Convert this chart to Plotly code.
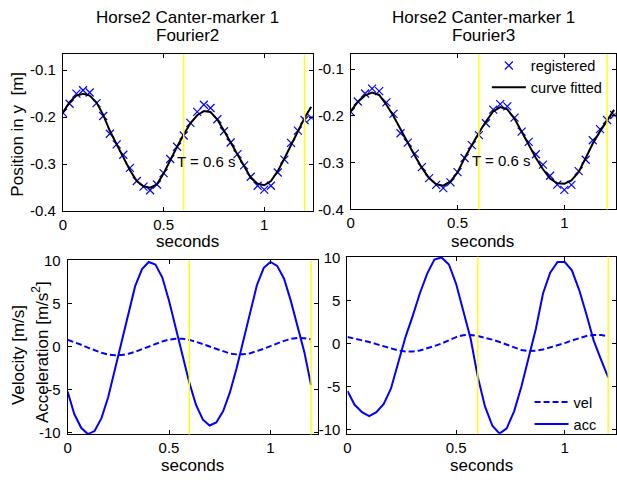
import plotly.graph_objects as go

# ---------------- data ----------------
t_pos = [0.0, 0.033, 0.067, 0.1, 0.133, 0.167, 0.2, 0.233, 0.267, 0.3,
         0.333, 0.367, 0.4, 0.433, 0.467, 0.5, 0.533, 0.567, 0.6, 0.633,
         0.667, 0.7, 0.733, 0.767, 0.8, 0.833, 0.867, 0.9, 0.933, 0.967,
         1.0, 1.033, 1.067, 1.1, 1.133, 1.167, 1.2, 1.233]
t_kin = t_pos[:37]

reg_f2 = [-0.191, -0.1715, -0.150, -0.1426, -0.1474, -0.170, -0.1976, -0.2354, -0.258, -0.280,
          -0.308, -0.336, -0.348, -0.3557, -0.3433, -0.319, -0.289, -0.263, -0.239, -0.212,
          -0.1886, -0.1735, -0.1804, -0.2045, -0.230, -0.254, -0.2787, -0.3027, -0.3268, -0.3461,
          -0.3543, -0.3461, -0.3179, -0.2904, -0.2546, -0.2285, -0.206, -0.201]
fit_f2 = [-0.190, -0.168, -0.154, -0.150, -0.154, -0.169, -0.195, -0.229, -0.258, -0.286,
          -0.313, -0.336, -0.347, -0.350, -0.343, -0.320, -0.291, -0.263, -0.237, -0.213,
          -0.196, -0.187, -0.189, -0.205, -0.229, -0.254, -0.280, -0.307, -0.329, -0.342,
          -0.345, -0.336, -0.315, -0.288, -0.259, -0.231, -0.202, -0.178]

reg_f3 = [-0.1913, -0.169, -0.152, -0.1415, -0.147, -0.171, -0.1954, -0.237, -0.257, -0.2805,
          -0.3095, -0.333, -0.3476, -0.3545, -0.342, -0.320, -0.290, -0.2625, -0.241, -0.2155,
          -0.1864, -0.1747, -0.1795, -0.2037, -0.2335, -0.2556, -0.2819, -0.304, -0.328, -0.347,
          -0.358, -0.3476, -0.318, -0.2936, -0.252, -0.228, -0.2086, -0.198]
fit_f3 = [-0.190, -0.170, -0.156, -0.150, -0.155, -0.176, -0.200, -0.228, -0.259, -0.285,
          -0.311, -0.333, -0.346, -0.349, -0.340, -0.321, -0.290, -0.262, -0.236, -0.212,
          -0.190, -0.181, -0.186, -0.206, -0.234, -0.262, -0.290, -0.314, -0.334, -0.344,
          -0.345, -0.338, -0.320, -0.290, -0.259, -0.233, -0.209, -0.187]

vel_f2 = [0.80, 0.54, 0.22, -0.12, -0.45, -0.72, -0.92, -1.00, -0.97, -0.83,
          -0.60, -0.30, 0.02, 0.33, 0.61, 0.82, 0.93, 0.92, 0.79, 0.57,
          0.29, -0.02, -0.33, -0.60, -0.80, -0.90, -0.89, -0.76, -0.54, -0.25,
          0.07, 0.39, 0.68, 0.90, 1.01, 0.99, 0.86]
acc_f2 = [-5.23, -7.86, -9.47, -10.2, -9.85, -8.34, -5.9, -2.7, 0.86, 4.06,
          7.06, 9.05, 9.88, 9.58, 8.07, 5.37, 2.18, -1.01, -4.2, -6.8,
          -8.53, -9.2, -8.84, -7.52, -5.34, -2.52, 0.67, 4.06, 7.17, 9.2,
          9.88, 9.43, 7.93, 5.37, 2.55, -0.64, -4.48]

vel_f3 = [0.75, 0.58, 0.40, 0.18, -0.07, -0.33, -0.58, -0.80, -0.93, -0.93,
          -0.82, -0.60, -0.30, 0.00, 0.40, 0.75, 0.97, 1.00, 0.88, 0.68,
          0.45, 0.18, -0.12, -0.45, -0.75, -0.87, -0.85, -0.70, -0.48, -0.22,
          0.05, 0.35, 0.65, 0.88, 1.00, 0.98, 0.87]
acc_f3 = [-5.52, -7.14, -8.0, -8.46, -8.0, -7.03, -5.26, -2.44, 0.75, 3.19,
          5.83, 8.15, 9.77, 10.03, 9.21, 6.96, 3.95, 0.56, -3.9, -7.33,
          -9.58, -10.5, -9.88, -7.9, -5.07, -1.88, 1.69, 5.83, 8.26, 9.5,
          9.5, 8.53, 6.2, 3.38, 0.37, -1.88, -3.95]

period_marks = [0.6, 1.2]
x_tickvals = [0, 0.5, 1]
x_ticktext = ["0", "0.5", "1"]
pos_tickvals = [-0.1, -0.2, -0.3, -0.4]
pos_ticktext = ["-0.1", "-0.2", "-0.3", "-0.4"]
kin_tickvals = [10, 5, 0, -5, -10]
kin_ticktext = ["10", "5", "0", "-5", "-10"]

W, H = 617, 486
FONT = "Liberation Sans, Arial, sans-serif"
BLUE = "#0000FF"

fig = go.Figure()

# top-left (Fourier2)
fig.add_trace(go.Scatter(x=t_pos, y=reg_f2, mode="markers", xaxis="x", yaxis="y",
                         marker=dict(symbol="x-thin", size=8, line=dict(color=BLUE, width=1.2)),
                         showlegend=False))
fig.add_trace(go.Scatter(x=t_pos, y=fit_f2, mode="lines", xaxis="x", yaxis="y",
                         line=dict(color="black", width=2), showlegend=False))
# top-right (Fourier3)
fig.add_trace(go.Scatter(x=t_pos, y=reg_f3, mode="markers", xaxis="x2", yaxis="y2",
                         name="registered", legend="legend",
                         marker=dict(symbol="x-thin", size=8, line=dict(color=BLUE, width=1.2))))
fig.add_trace(go.Scatter(x=t_pos, y=fit_f3, mode="lines", xaxis="x2", yaxis="y2",
                         name="curve fitted", legend="legend",
                         line=dict(color="black", width=2)))
# bottom-left
fig.add_trace(go.Scatter(x=t_kin, y=vel_f2, mode="lines", xaxis="x3", yaxis="y3",
                         line=dict(color=BLUE, width=2, dash="6px,3px"), showlegend=False))
fig.add_trace(go.Scatter(x=t_kin, y=acc_f2, mode="lines", xaxis="x3", yaxis="y3",
                         line=dict(color=BLUE, width=2), showlegend=False))
# bottom-right
fig.add_trace(go.Scatter(x=t_kin, y=vel_f3, mode="lines", xaxis="x4", yaxis="y4",
                         name="vel", legend="legend2",
                         line=dict(color=BLUE, width=2, dash="6px,3px")))
fig.add_trace(go.Scatter(x=t_kin, y=acc_f3, mode="lines", xaxis="x4", yaxis="y4",
                         name="acc", legend="legend2",
                         line=dict(color=BLUE, width=2)))


def px_x(p):
    return p / W


def px_y(p):
    return 1 - p / H


axis_common = dict(showline=True, linecolor="black", linewidth=1, mirror="ticks",
                   ticks="inside", ticklen=4, tickcolor="black", tickwidth=1,
                   showgrid=False, zeroline=False,
                   tickfont=dict(family=FONT, size=15, color="black"))
yaxis_extra = dict(ticklabelstandoff=3)

layout = dict(
    width=W, height=H, margin=dict(l=0, r=0, t=0, b=0),
    paper_bgcolor="white", plot_bgcolor="white",
    font=dict(family=FONT, color="black"),
    xaxis=dict(domain=[px_x(59.3), px_x(310.6)], range=[0, 1.24], anchor="y",
               tickvals=x_tickvals, ticktext=x_ticktext, **axis_common),
    yaxis=dict(domain=[px_y(210), px_y(48)], range=[-0.4, -0.0664], anchor="x",
               tickvals=pos_tickvals, ticktext=pos_ticktext, **axis_common, **yaxis_extra),
    xaxis2=dict(domain=[px_x(349), px_x(615.6)], range=[0, 1.24], anchor="y2",
                tickvals=x_tickvals, ticktext=x_ticktext, **axis_common),
    yaxis2=dict(domain=[px_y(208.3), px_y(47.7)], range=[-0.4, -0.0677], anchor="x2",
                tickvals=pos_tickvals, ticktext=pos_ticktext, **axis_common, **yaxis_extra),
    xaxis3=dict(domain=[px_x(64), px_x(316.2)], range=[0, 1.235], anchor="y3",
                tickvals=x_tickvals, ticktext=x_ticktext, **axis_common),
    yaxis3=dict(domain=[px_y(441), px_y(260.7)], range=[-10.25, 10.1], anchor="x3",
                tickvals=kin_tickvals, ticktext=kin_ticktext, **axis_common, **yaxis_extra),
    xaxis4=dict(domain=[px_x(345.7), px_x(616)], range=[0, 1.236], anchor="y4",
                tickvals=x_tickvals, ticktext=x_ticktext, **axis_common),
    yaxis4=dict(domain=[px_y(440.3), px_y(257.3)], range=[-10.52, 10.1], anchor="x4",
                tickvals=kin_tickvals, ticktext=kin_ticktext, **axis_common, **yaxis_extra),
    legend=dict(x=px_x(486), y=px_y(43), xanchor="left", yanchor="top",
                bgcolor="rgba(0,0,0,0)", font=dict(family=FONT, size=14.5, color="black"),
                tracegroupgap=0, itemwidth=34),
    legend2=dict(x=px_x(529), y=px_y(391), xanchor="left", yanchor="top",
                 bgcolor="rgba(0,0,0,0)", font=dict(family=FONT, size=14.5, color="black"),
                 tracegroupgap=0, itemwidth=34),
)

shapes = []
for xa, ya in [("x", "y"), ("x2", "y2"), ("x3", "y3"), ("x4", "y4")]:
    for T in period_marks:
        shapes.append(dict(type="line", xref=xa, yref=ya + " domain", x0=T, x1=T, y0=0, y1=1,
                           line=dict(color="#FFFF00", width=1.4), layer="above"))
layout["shapes"] = shapes

TF = dict(family=FONT, size=17, color="black")
ann = []
# titles
for cx, l2 in [(185, "Fourier2"), (483, "Fourier3")]:
    ann.append(dict(text="Horse2 Canter-marker 1", x=px_x(cx), y=px_y(10), xref="paper", yref="paper",
                    showarrow=False, xanchor="center", yanchor="middle", font=TF))
    ann.append(dict(text=l2, x=px_x(cx), y=px_y(28), xref="paper", yref="paper",
                    showarrow=False, xanchor="center", yanchor="middle", font=TF))
# x labels
for cx, cy in [(185, 241), (482, 241), (190, 473), (481, 473)]:
    ann.append(dict(text="seconds", x=px_x(cx), y=px_y(cy), xref="paper", yref="paper",
                    showarrow=False, xanchor="center", yanchor="middle", font=TF))
# y labels
ann.append(dict(text="Position in y  [m]", x=px_x(14), y=px_y(130), xref="paper", yref="paper",
                showarrow=False, textangle=-90, xanchor="center", yanchor="middle", font=TF))
ann.append(dict(text="Velocity [m/s]", x=px_x(14), y=px_y(359), xref="paper", yref="paper",
                showarrow=False, textangle=-90, xanchor="center", yanchor="middle", font=TF))
ann.append(dict(text="Acceleration [m/s<sup>2</sup>]", x=px_x(37), y=px_y(356), xref="paper", yref="paper",
                showarrow=False, textangle=-90, xanchor="center", yanchor="middle", font=TF))
# period annotations
for xa, ya in [("x", "y"), ("x2", "y2")]:
    ann.append(dict(text="T = 0.6 s", x=0.575, y=-0.295, xref=xa, yref=ya, showarrow=False,
                    xanchor="left", yanchor="middle", xshift=-4,
                    font=dict(family=FONT, size=15, color="black")))
layout["annotations"] = ann

fig.update_layout(**layout)
fig.write_html("out.html")
